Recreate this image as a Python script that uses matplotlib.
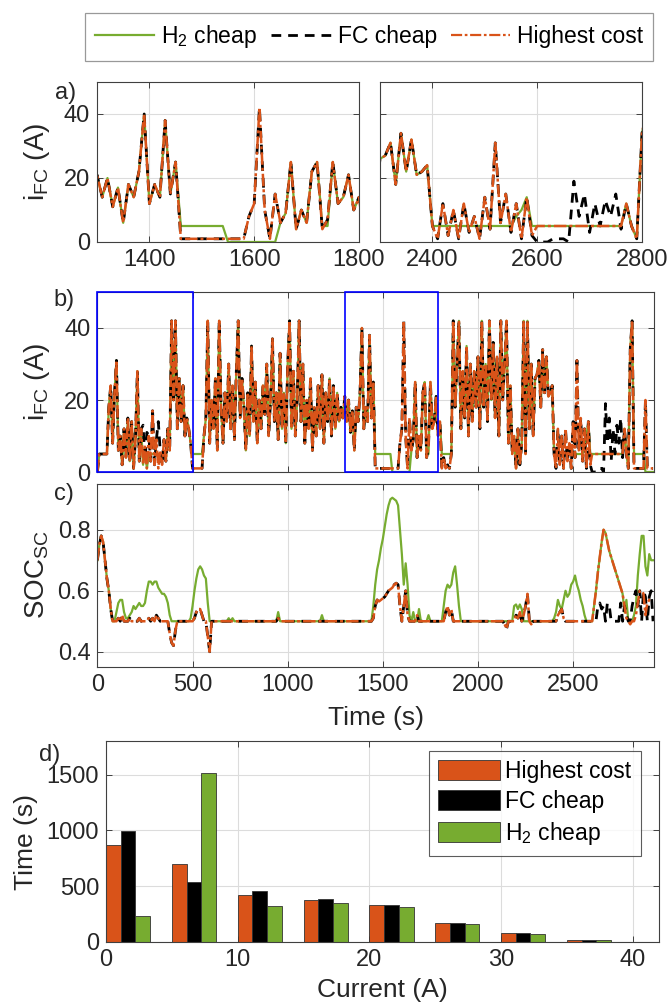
import numpy as np
import matplotlib
matplotlib.use('Agg')
import matplotlib.pyplot as plt
from matplotlib.lines import Line2D
from matplotlib.patches import Rectangle

plt.rcParams['font.family'] = ['Liberation Sans', 'DejaVu Sans']
plt.rcParams['mathtext.fontset'] = 'custom'
plt.rcParams['mathtext.rm'] = 'Liberation Sans'
plt.rcParams['mathtext.it'] = 'Liberation Sans:italic'

ORANGE = '#D95319'
GREEN = '#77AC30'
BLACK = '#000000'
AXCOL = '#404040'
TXT = '#262626'

# one sample every 10 s, 0 .. 2920 s
time_s = np.arange(0, 2930, 10)

# fuel cell current, "Highest cost" strategy (A), rows of 100 s
ifc_highest = [
    0, 5, 5, 5, 5, 5, 18, 24, 8, 22,
    31, 6, 10, 2, 12, 4, 15, 3, 14, 1,
    9, 28, 3, 12, 2, 7, 1, 10, 3, 17,
    2, 9, 1, 6, 2, 9, 3, 12, 6, 42,
    20, 42, 12, 26, 14, 24, 10, 15, 12, 8,
    1, 1, 1, 1, 1, 1, 10, 15, 42, 8,
    20, 12, 26, 6, 42, 18, 8, 22, 14, 30,
    12, 24, 9, 28, 42, 15, 26, 18, 6, 22,
    10, 35, 14, 25, 8, 20, 12, 24, 16, 30,
    10, 20, 37, 14, 22, 9, 33, 12, 22, 8,
    30, 42, 12, 28, 10, 20, 42, 14, 30, 8,
    20, 12, 26, 6, 18, 10, 24, 12, 27, 8,
    22, 14, 26, 10, 24, 12, 22, 14, 18, 15,
    21, 14, 20, 11, 17, 6, 18, 14, 22, 40,
    12, 18, 14, 38, 15, 25, 1, 1, 1, 1,
    1, 1, 1, 1, 1, 1, 1, 1, 1, 8,
    12, 42, 10, 1, 15, 6, 9, 25, 4, 10,
    6, 22, 25, 4, 7, 25, 12, 14, 21, 10,
    14, 1, 4, 1, 2, 1, 5, 42, 18, 30,
    42, 12, 28, 15, 35, 10, 30, 14, 28, 18,
    32, 12, 42, 18, 30, 14, 42, 20, 36, 15,
    32, 10, 42, 20, 30, 42, 8, 24, 5, 10,
    1, 12, 2, 8, 42, 5, 42, 12, 30, 10,
    26, 27, 31, 18, 34, 22, 32, 21, 22, 24,
    5, 1, 12, 2, 10, 1, 12, 3, 8, 1,
    14, 4, 31, 6, 15, 3, 12, 1, 14, 2,
    5, 5, 5, 5, 5, 5, 5, 5, 5, 5,
    5, 5, 5, 5, 5, 5, 5, 12, 5, 1,
    34, 42, 1, 1, 1, 1, 1, 1, 20, 1,
    1, 1, 1,
]

# where "FC cheap" leaves the highest-cost curve: (start time, values)
ifc_fc_cheap_segments = [
    (240, [13, 3, 11]),
    (320, [14]),
    (2600, [0, 0, 0, 1, 1, 1, 0, 19, 8, 15, 3, 12, 5, 13, 8, 15, 4, 12]),
]

# where "H2 cheap" leaves the highest-cost curve
ifc_h2_cheap_segments = [
    (270, [5, 5, 5, 5, 5, 5, 5, 5, 5]),
    (500, [5, 5, 5, 5, 5, 5]),
    (1460, [5, 5, 5, 5, 5, 5, 5, 5, 5]),
    (1550, [0, 0, 0, 0, 0, 0, 0, 0, 0, 0]),
    (1730, [5, 5]),
    (1810, [5, 5, 5, 5, 5, 5]),
    (2400, [5, 5, 5, 5, 5, 5, 5, 5, 5, 5, 5, 5, 5, 5, 5, 5, 8, 10, 14, 5]),
    (2820, [5, 5, 5, 5, 5, 5, 0, 0, 0, 0, 0]),
]

# supercapacitor state of charge, "Highest cost"
soc_highest = [
    0.70, 0.75, 0.78, 0.76, 0.70, 0.64, 0.60, 0.54, 0.50, 0.50,
    0.50, 0.51, 0.50, 0.52, 0.50, 0.50, 0.50, 0.51, 0.50, 0.50,
    0.50, 0.50, 0.51, 0.50, 0.50, 0.50, 0.50, 0.51, 0.50, 0.51,
    0.50, 0.52, 0.51, 0.50, 0.50, 0.50, 0.50, 0.50, 0.46, 0.43,
    0.42, 0.47, 0.50, 0.50, 0.50, 0.50, 0.50, 0.50, 0.50, 0.50,
    0.50, 0.51, 0.53, 0.54, 0.54, 0.52, 0.50, 0.50, 0.45, 0.40,
    0.50, 0.50, 0.50, 0.50, 0.50, 0.50, 0.50, 0.50, 0.50, 0.50,
    0.50, 0.50, 0.50, 0.50, 0.50, 0.50, 0.50, 0.50, 0.50, 0.50,
    0.50, 0.50, 0.50, 0.50, 0.50, 0.50, 0.50, 0.50, 0.50, 0.50,
    0.50, 0.50, 0.50, 0.50, 0.50, 0.51, 0.50, 0.50, 0.50, 0.50,
    0.50, 0.50, 0.50, 0.50, 0.50, 0.50, 0.50, 0.50, 0.50, 0.50,
    0.50, 0.50, 0.50, 0.50, 0.50, 0.50, 0.50, 0.50, 0.50, 0.50,
    0.50, 0.50, 0.50, 0.50, 0.50, 0.50, 0.50, 0.50, 0.50, 0.50,
    0.50, 0.50, 0.50, 0.50, 0.50, 0.50, 0.50, 0.50, 0.50, 0.50,
    0.50, 0.50, 0.50, 0.50, 0.50, 0.51, 0.55, 0.57, 0.565, 0.57,
    0.575, 0.58, 0.59, 0.60, 0.605, 0.61, 0.62, 0.625, 0.62, 0.55,
    0.50, 0.55, 0.60, 0.52, 0.50, 0.50, 0.50, 0.50, 0.52, 0.50,
    0.50, 0.50, 0.50, 0.50, 0.50, 0.50, 0.50, 0.50, 0.50, 0.50,
    0.50, 0.50, 0.50, 0.53, 0.55, 0.52, 0.54, 0.50, 0.50, 0.50,
    0.50, 0.50, 0.50, 0.50, 0.50, 0.50, 0.50, 0.50, 0.50, 0.50,
    0.50, 0.50, 0.50, 0.50, 0.50, 0.50, 0.50, 0.50, 0.50, 0.50,
    0.50, 0.50, 0.50, 0.50, 0.49, 0.475, 0.50, 0.50, 0.50, 0.50,
    0.52, 0.51, 0.53, 0.50, 0.52, 0.55, 0.59, 0.50, 0.49, 0.50,
    0.50, 0.50, 0.50, 0.50, 0.50, 0.50, 0.50, 0.50, 0.50, 0.50,
    0.50, 0.50, 0.52, 0.53, 0.54, 0.51, 0.50, 0.50, 0.50, 0.50,
    0.50, 0.50, 0.50, 0.50, 0.50, 0.50, 0.50, 0.50, 0.50, 0.50,
    0.50, 0.55, 0.60, 0.66, 0.71, 0.76, 0.80, 0.79, 0.76, 0.73,
    0.71, 0.69, 0.67, 0.65, 0.63, 0.61, 0.59, 0.55, 0.51, 0.50,
    0.49, 0.50, 0.50, 0.52, 0.56, 0.60, 0.60, 0.59, 0.52, 0.56,
    0.57, 0.57, 0.57,
]

soc_fc_cheap_segments = [
    (2600, [0.50, 0.50, 0.50, 0.55, 0.56, 0.54, 0.55, 0.50, 0.56, 0.55,
            0.50, 0.50, 0.50, 0.50, 0.50, 0.56, 0.50, 0.55, 0.52, 0.50,
            0.50, 0.55, 0.58, 0.60, 0.55, 0.60, 0.50, 0.60, 0.58, 0.50,
            0.58, 0.60, 0.50]),
]

soc_h2_cheap = [
    0.70, 0.75, 0.78, 0.76, 0.70, 0.64, 0.60, 0.54, 0.50, 0.50,
    0.53, 0.56, 0.57, 0.57, 0.53, 0.51, 0.51, 0.52, 0.53, 0.55,
    0.54, 0.55, 0.56, 0.55, 0.55, 0.56, 0.60, 0.63, 0.63, 0.62,
    0.63, 0.63, 0.61, 0.60, 0.59, 0.59, 0.58, 0.56, 0.52, 0.50,
    0.50, 0.50, 0.50, 0.50, 0.50, 0.50, 0.50, 0.50, 0.50, 0.51,
    0.55, 0.60, 0.64, 0.67, 0.68, 0.67, 0.65, 0.64, 0.56, 0.50,
    0.50, 0.50, 0.50, 0.50, 0.50, 0.50, 0.50, 0.50, 0.50, 0.51,
    0.50, 0.51, 0.50, 0.50, 0.50, 0.50, 0.50, 0.50, 0.50, 0.50,
    0.50, 0.50, 0.50, 0.50, 0.50, 0.50, 0.50, 0.50, 0.50, 0.50,
    0.50, 0.50, 0.50, 0.50, 0.50, 0.53, 0.50, 0.50, 0.50, 0.50,
    0.50, 0.50, 0.50, 0.50, 0.50, 0.50, 0.50, 0.50, 0.50, 0.50,
    0.50, 0.50, 0.50, 0.50, 0.50, 0.50, 0.50, 0.50, 0.52, 0.50,
    0.50, 0.50, 0.50, 0.50, 0.50, 0.50, 0.50, 0.50, 0.50, 0.50,
    0.50, 0.50, 0.50, 0.50, 0.50, 0.50, 0.50, 0.50, 0.50, 0.50,
    0.50, 0.50, 0.50, 0.50, 0.50, 0.55, 0.62, 0.67, 0.70, 0.74,
    0.77, 0.81, 0.85, 0.88, 0.90, 0.905, 0.90, 0.895, 0.88, 0.80,
    0.72, 0.62, 0.69, 0.62, 0.52, 0.50, 0.53, 0.50, 0.50, 0.54,
    0.50, 0.50, 0.50, 0.50, 0.52, 0.50, 0.50, 0.50, 0.50, 0.50,
    0.50, 0.50, 0.55, 0.60, 0.62, 0.61, 0.62, 0.66, 0.68, 0.62,
    0.55, 0.50, 0.50, 0.50, 0.50, 0.50, 0.50, 0.50, 0.50, 0.50,
    0.50, 0.50, 0.50, 0.50, 0.50, 0.50, 0.50, 0.50, 0.50, 0.50,
    0.50, 0.50, 0.50, 0.50, 0.50, 0.50, 0.50, 0.50, 0.50, 0.55,
    0.555, 0.54, 0.555, 0.54, 0.50, 0.50, 0.50, 0.50, 0.50, 0.50,
    0.50, 0.50, 0.50, 0.50, 0.50, 0.50, 0.50, 0.50, 0.50, 0.50,
    0.51, 0.53, 0.57, 0.55, 0.54, 0.57, 0.60, 0.58, 0.59, 0.62,
    0.63, 0.65, 0.62, 0.60, 0.57, 0.55, 0.52, 0.50, 0.50, 0.50,
    0.50, 0.55, 0.60, 0.66, 0.71, 0.76, 0.80, 0.79, 0.76, 0.73,
    0.71, 0.69, 0.67, 0.65, 0.63, 0.61, 0.59, 0.53, 0.57, 0.50,
    0.50, 0.50, 0.52, 0.55, 0.65, 0.72, 0.78, 0.78, 0.68, 0.65,
    0.72, 0.70, 0.70,
]

# histogram of fuel cell current (panel d)
current_bins = [0, 5, 10, 15, 20, 25, 30, 35, 40]
hist_highest = [869, 702, 420, 375, 327, 170, 77, 15, 3]
hist_fc_cheap = [991, 536, 461, 384, 330, 170, 77, 15, 3]
hist_h2_cheap = [229, 1509, 324, 351, 315, 164, 74, 15, 2]


def apply_segments(base, segments):
    out = np.array(base, dtype=float)
    for start, vals in segments:
        i0 = int(start // 10)
        out[i0:i0 + len(vals)] = vals
    return out


ifc_hc = np.array(ifc_highest, dtype=float)
ifc_fc = apply_segments(ifc_highest, ifc_fc_cheap_segments)
ifc_h2 = apply_segments(ifc_highest, ifc_h2_cheap_segments)
soc_hc = np.array(soc_highest)
soc_fc = apply_segments(soc_highest, soc_fc_cheap_segments)
soc_h2 = np.array(soc_h2_cheap)

W, H = 670, 1007
fig = plt.figure(figsize=(W / 100, H / 100), dpi=100)

LS_FC = (0, (3.5, 2.5))
LS_HC = (0, (5, 1.2, 1.2, 1.2))


def ax_px(x0, y0, x1, y1):
    return fig.add_axes([x0 / W, 1 - y1 / H, (x1 - x0) / W, (y1 - y0) / H])


def style(ax):
    for s in ax.spines.values():
        s.set_color(AXCOL)
        s.set_linewidth(0.8)
    ax.tick_params(direction='in', length=4, width=0.7, colors=AXCOL,
                   labelcolor=TXT, labelsize=17, top=True, right=True, pad=5)
    ax.grid(True, color='#dcdcdc', linewidth=0.8)
    ax.set_axisbelow(True)


def draw_three(ax, x, h2, fc, hc):
    ax.plot(x, h2, color=GREEN, lw=1.6, ls='-')
    ax.plot(x, fc, color=BLACK, lw=2.0, ls=LS_FC)
    ax.plot(x, hc, color=ORANGE, lw=1.8, ls=LS_HC)


# panel a (zooms)
ax_a1 = ax_px(97, 82, 359, 242)
ax_a2 = ax_px(380, 82, 642, 242)
for ax, lim, ticks in [(ax_a1, (1300, 1800), [1400, 1600, 1800]),
                       (ax_a2, (2300, 2800), [2400, 2600, 2800])]:
    style(ax)
    draw_three(ax, time_s, ifc_h2, ifc_fc, ifc_hc)
    ax.set_xlim(*lim)
    ax.set_ylim(0, 50)
    ax.set_xticks(ticks)
    ax.set_yticks([0, 20, 40])
ax_a2.set_yticklabels([])

# panel b
ax_b = ax_px(97.4, 292, 654, 472)
style(ax_b)
draw_three(ax_b, time_s, ifc_h2, ifc_fc, ifc_hc)
ax_b.set_xlim(0, 2925)
ax_b.set_ylim(0, 50)
ax_b.set_xticks([0, 500, 1000, 1500, 2000, 2500])
ax_b.set_xticklabels([])
ax_b.set_yticks([0, 20, 40])
for x0, x1 in [(0, 500), (1300, 1790)]:
    ax_b.add_patch(Rectangle((x0, 0), x1 - x0, 50, fill=False,
                             edgecolor='#0000ff', lw=1.2, zorder=5, clip_on=False))

# panel c
ax_c = ax_px(97.4, 484, 654, 667)
style(ax_c)
draw_three(ax_c, time_s, soc_h2, soc_fc, soc_hc)
ax_c.set_xlim(0, 2925)
ax_c.set_ylim(0.35, 0.95)
ax_c.set_xticks([0, 500, 1000, 1500, 2000, 2500])
ax_c.set_yticks([0.4, 0.6, 0.8])
ax_c.set_yticklabels(['0.4', '0.6', '0.8'])

# panel d
ax_d = ax_px(106, 741, 659, 942)
style(ax_d)
bw = 1.12
xb = np.array(current_bins, dtype=float)
ax_d.bar(xb, hist_highest, width=bw, align='edge', color=ORANGE,
         edgecolor='#333333', lw=0.6, label='Highest cost')
ax_d.bar(xb + bw, hist_fc_cheap, width=bw, align='edge', color=BLACK,
         edgecolor='#333333', lw=0.6, label='FC cheap')
ax_d.bar(xb + 2 * bw, hist_h2_cheap, width=bw, align='edge', color=GREEN,
         edgecolor='#333333', lw=0.6, label='H$_2$ cheap')
ax_d.set_xlim(0, 42)
ax_d.set_ylim(0, 1800)
ax_d.set_xticks([0, 10, 20, 30, 40])
ax_d.set_yticks([0, 500, 1000, 1500])
leg_d = ax_d.legend(loc='upper right', fontsize=16.5, frameon=True, fancybox=False,
                    edgecolor='#333333', handlelength=2.7, handleheight=0.95,
                    handletextpad=0.25, labelspacing=0.3, borderpad=0.4,
                    borderaxespad=0, bbox_to_anchor=(0.967, 0.95))
leg_d.get_frame().set_linewidth(0.8)

# top legend
handles = [
    Line2D([], [], color=GREEN, lw=1.6, ls='-'),
    Line2D([], [], color=BLACK, lw=2.0, ls=LS_FC),
    Line2D([], [], color=ORANGE, lw=1.6, ls=LS_HC),
]
leg = fig.legend(handles, ['H$_2$ cheap', 'FC cheap', 'Highest cost'],
                 loc='center', bbox_to_anchor=(369 / W, 1 - 37 / H), ncol=3,
                 fontsize=16.5, frameon=True, fancybox=False, edgecolor='#808080',
                 handlelength=2.6, handletextpad=0.3, columnspacing=0.6,
                 borderpad=0.45)
leg.get_frame().set_linewidth(0.9)

# axis titles and panel letters
lab = dict(color=TXT, ha='center', va='center')
fig.text(37 / W, 1 - 162 / H, r'i$_{\rm FC}$ (A)', rotation=90, fontsize=20, **lab)
fig.text(37 / W, 1 - 382 / H, r'i$_{\rm FC}$ (A)', rotation=90, fontsize=20, **lab)
fig.text(37 / W, 1 - 575 / H, r'SOC$_{\rm SC}$', rotation=90, fontsize=20, **lab)
fig.text(376 / W, 1 - 718 / H, 'Time (s)', fontsize=19, **lab)
fig.text(26 / W, 1 - 842 / H, 'Time (s)', rotation=90, fontsize=19, **lab)
fig.text(382 / W, 1 - 990 / H, 'Current (A)', fontsize=19, **lab)
fig.text(66 / W, 1 - 93 / H, 'a)', fontsize=17, **lab)
fig.text(64 / W, 1 - 300 / H, 'b)', fontsize=17, **lab)
fig.text(64 / W, 1 - 494 / H, 'c)', fontsize=17, **lab)
fig.text(50 / W, 1 - 755 / H, 'd)', fontsize=17, **lab)

fig.savefig('out.png', dpi=100)
